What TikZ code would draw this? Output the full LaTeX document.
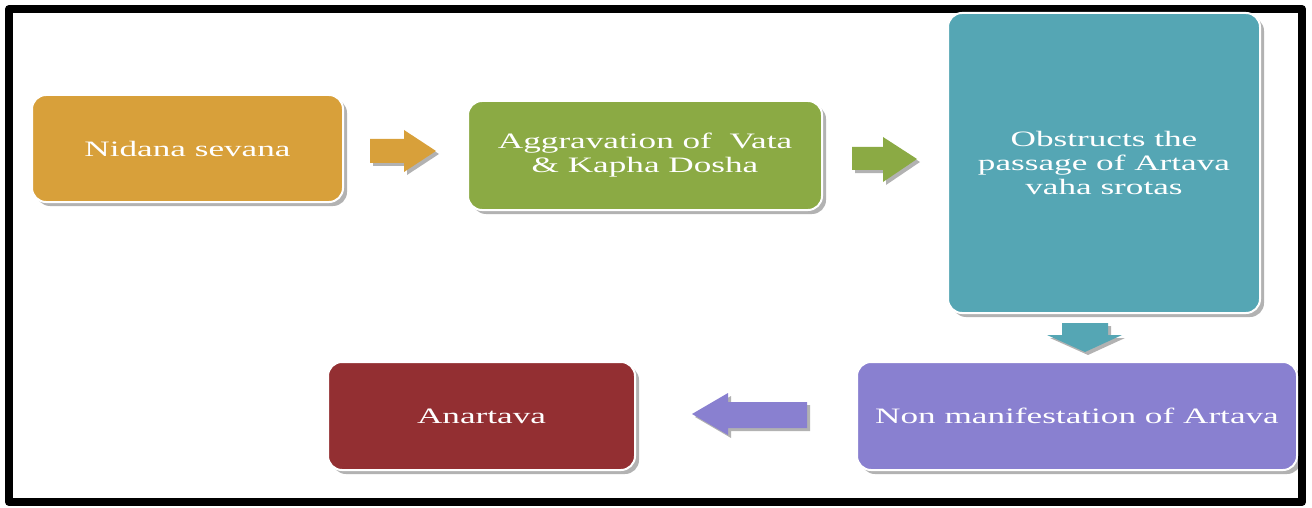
\documentclass[tikz,border=0pt]{standalone}
\usepackage{fontspec}
\newfontfamily\boxfont[FakeStretch=1.6]{Liberation Serif}
\usepackage{tikz}
\usetikzlibrary{shadows}
\definecolor{nidanaorange}{HTML}{D8A03A}
\definecolor{vatagreen}{HTML}{8BAA44}
\definecolor{srotasteal}{HTML}{55A6B4}
\definecolor{artavapurple}{HTML}{8980D0}
\definecolor{anartavared}{HTML}{932F32}
\tikzset{
  every picture/.style={line join=round},
  stagebox/.style={rectangle, rounded corners=14pt, draw=white, line width=2pt,
    text=white, align=center, inner sep=0pt,
    font={\boxfont\fontsize{22}{24}\selectfont},
    drop shadow={shadow xshift=4pt, shadow yshift=-4pt, fill=black, opacity=0.3}},
  blockarrow/.style={drop shadow={shadow xshift=3pt, shadow yshift=-3pt, fill=black, opacity=0.3}},
}

\begin{document}
\begin{tikzpicture}[x=1pt,y=-1pt]
\useasboundingbox (0,0) rectangle (1312,508);
\fill[white] (0,0) rectangle (1312,508);
% frame
\draw[line width=8pt] (9,9) rectangle (1302,502);
% stages
\node[stagebox, fill=nidanaorange, minimum width=311pt, minimum height=107pt] (nidana) at (187.5,148.5) {Nidana sevana};
\node[stagebox, fill=vatagreen, minimum width=354pt, minimum height=109pt] (dosha) at (645,155.5) {Aggravation of~ Vata\\\& Kapha Dosha};
\node[stagebox, fill=srotasteal, minimum width=312pt, minimum height=300pt] (srotas) at (1104,163) {Obstructs the\\passage of Artava\\vaha srotas};
\node[stagebox, fill=artavapurple, minimum width=440pt, minimum height=108pt] (nonartava) at (1077,416) {Non manifestation of Artava};
\node[stagebox, fill=anartavared, minimum width=307pt, minimum height=108pt] (anartava) at (481.5,416) {Anartava};
% block arrows
\fill[blockarrow, nidanaorange] (370,139) -- (404,139) -- (404,130) -- (436,151) -- (404,172) -- (404,163) -- (370,163) -- cycle;
\fill[blockarrow, vatagreen] (852,147) -- (883,147) -- (883,137) -- (917,159) -- (883,182) -- (883,170) -- (852,170) -- cycle;
\fill[blockarrow, srotasteal] (1062,323) -- (1108,323) -- (1108,335) -- (1122,335) -- (1085,352) -- (1047,335) -- (1062,335) -- cycle;
\fill[blockarrow, artavapurple] (807,402) -- (728,402) -- (728,393) -- (692,414) -- (728,435) -- (728,428) -- (807,428) -- cycle;
\end{tikzpicture}
\end{document}
